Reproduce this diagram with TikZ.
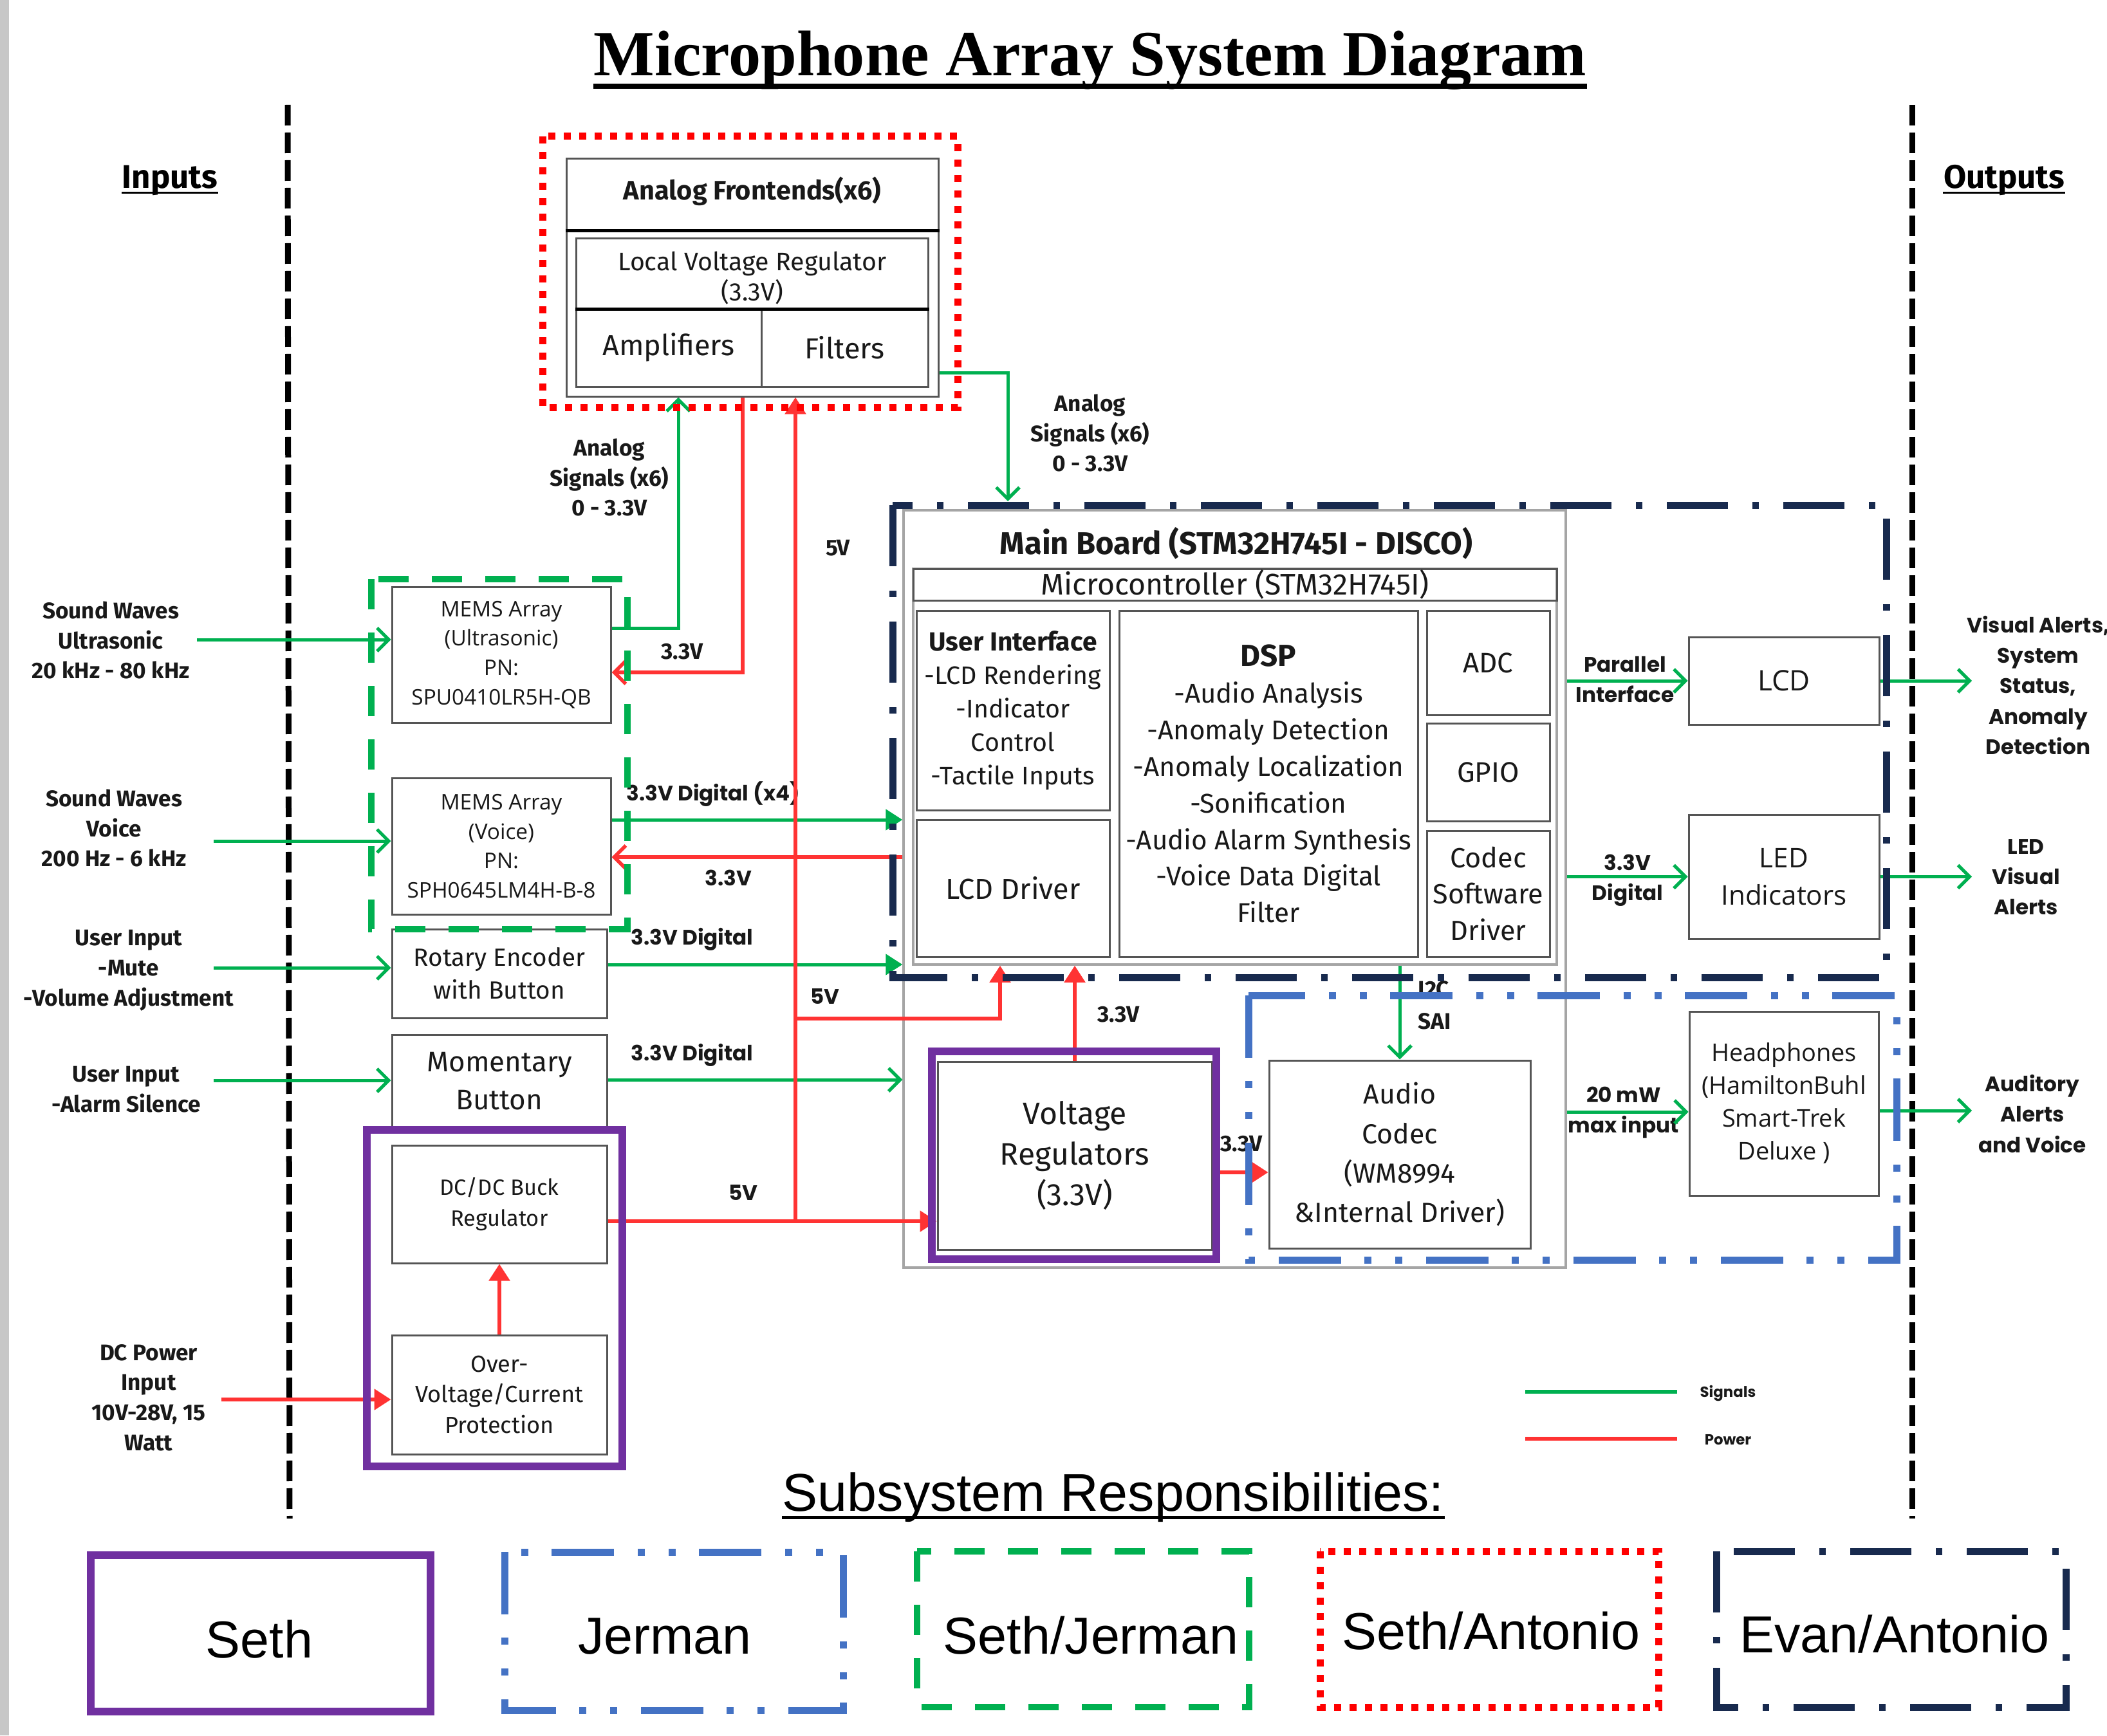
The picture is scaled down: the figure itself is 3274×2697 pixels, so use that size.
\documentclass[tikz,border=0pt]{standalone}
\usepackage{fontspec}
\setmainfont{Fira Sans}
\newfontfamily\geofont{Poppins}
\newfontfamily\opensans{Open Sans}
\newfontfamily\arialfont{Liberation Sans}
\newfontfamily\timesfont{Liberation Serif}
\usepackage{tikz}
\usetikzlibrary{arrows.meta,positioning,calc}

\definecolor{sigcol}{RGB}{0,176,80}
\definecolor{pwrcol}{RGB}{255,51,51}
\definecolor{redown}{RGB}{255,0,0}
\definecolor{greenown}{RGB}{0,176,80}
\definecolor{purpleown}{RGB}{112,48,160}
\definecolor{navyown}{RGB}{24,42,78}
\definecolor{blueown}{RGB}{68,114,196}
\definecolor{edgegray}{RGB}{85,85,85}
\definecolor{boardgray}{RGB}{165,165,165}
\definecolor{ink}{RGB}{25,25,25}

\newcommand\setfs[2]{\fontsize{#1}{#2}\selectfont}

\begin{document}
\begin{tikzpicture}[x=0.1mm,y=-0.1mm,>=Latex,
  box/.style={draw=edgegray,line width=0.3mm,align=center,inner sep=0pt,text=ink},
  boardbox/.style={draw=boardgray,line width=0.35mm,inner sep=0pt},
  sig/.style={draw=sigcol,line width=0.5mm,-{Straight Barb[length=1.8mm,width=3.6mm]}},
  sigf/.style={draw=sigcol,line width=0.5mm,-{Triangle[length=2.6mm,width=3.2mm]}},
  pwr/.style={draw=pwrcol,line width=0.55mm,-{Triangle[length=2.6mm,width=3.2mm]}},
  pwro/.style={draw=pwrcol,line width=0.55mm,-{Straight Barb[length=1.8mm,width=3.6mm]}},
  pwrline/.style={draw=pwrcol,line width=0.55mm},
  divider/.style={line width=0.9mm,dash pattern=on 3.2mm off 1.1mm},
  sethown/.style={draw=purpleown,line width=1.2mm},
  jermanown/.style={draw=blueown,line width=1.1mm,dash pattern=on 9.7mm off 3.6mm on 1.1mm off 3.7mm on 1.1mm off 3.7mm},
  sjown/.style={draw=greenown,line width=1.0mm,dash pattern=on 4.7mm off 3.6mm},
  saown/.style={draw=redown,line width=1.1mm,dash pattern=on 1.1mm off 1.3mm},
  eaown/.style={draw=navyown,line width=1.1mm,dash pattern=on 9.5mm off 3.8mm on 1mm off 3.8mm},
  inlbl/.style={font=\bfseries\setfs{10}{13.3},align=center,inner sep=0pt,text=ink},
  wirelbl/.style={font=\geofont\bfseries\setfs{9.3}{13.4},align=center,inner sep=0pt,text=ink},
  outlbl/.style={font=\geofont\bfseries\setfs{9.3}{13.4},align=center,inner sep=0pt,text=ink},
  ownlbl/.style={font=\arialfont\setfs{23}{26},inner sep=0pt}]

\useasboundingbox (0,0) rectangle (3274,2697);
\fill[black!22] (0,0) rectangle (14,2697);

% headings
\node[anchor=base,inner sep=0pt,font=\timesfont\bfseries\setfs{28.5}{32}] (title) at (1694,118) {Microphone Array System Diagram};
\draw[line width=0.8mm] ([yshift=-1.6mm]title.base west) -- ([yshift=-1.6mm]title.base east);
\node[anchor=base,inner sep=0pt,font=\bfseries\setfs{14.5}{16}] (inhead) at (264,293) {Inputs};
\draw[line width=0.3mm] ([yshift=-0.7mm]inhead.base west) -- ([yshift=-0.7mm]inhead.base east);
\node[anchor=base,inner sep=0pt,font=\bfseries\setfs{14.5}{16}] (outhead) at (3114,293) {Outputs};
\draw[line width=0.3mm] ([yshift=-0.7mm]outhead.base west) -- ([yshift=-0.7mm]outhead.base east);

% input / output dividers
\draw[divider] (447,163) -- (450,2360);
\draw[divider] (2971,163) -- (2971,2360);

% analog frontends
\node[box,minimum width=57.8mm,minimum height=36.9mm] (afe) at (1169,431.5) {};
\node[inner sep=0pt,text=ink,font=\bfseries\setfs{11.8}{13}] (afetitle) at (1169,297) {Analog Frontends(x6)};
\draw[line width=0.5mm] (afe.west |- 0,359) -- (afe.east |- 0,359);
\node[box,minimum width=54.7mm,minimum height=10.8mm] (lvr) at (1168.5,425) {};
\node[inner sep=0pt,align=center,text=ink,font=\setfs{11.2}{13.6}] (lvrtext) at (1169,432) {Local Voltage Regulator\\(3.3V)};
\node[box,minimum width=28.8mm,minimum height=12.2mm,font=\setfs{12.8}{15}] (amp) at (1039,540) {Amplifiers};
\node[box,minimum width=25.9mm,minimum height=12.2mm,font=\setfs{12.8}{15}] (filt) at (1312.5,540) {Filters};
\draw[line width=0.5mm] (lvr.south west) -- (lvr.south east);

% sensors and user inputs
\node[box,minimum width=34mm,minimum height=21.1mm,font=\opensans\setfs{9.5}{13}] (memsu) at (779,1017.5) {MEMS Array\\(Ultrasonic)\\PN:\\SPU0410LR5H-QB};
\node[box,minimum width=34mm,minimum height=21.2mm,font=\opensans\setfs{9.5}{13}] (memsv) at (779,1315) {MEMS Array\\(Voice)\\PN:\\SPH0645LM4H-B-8};
\node[box,minimum width=33.4mm,minimum height=13.8mm,font=\setfs{11}{14.5}] (rotary) at (776,1513) {Rotary Encoder\\with Button};
\node[box,minimum width=33.4mm,minimum height=14.4mm,font=\setfs{12.5}{16.8}] (momentary) at (776,1680) {Momentary\\Button};
\node[box,minimum width=33.4mm,minimum height=18.3mm,font=\setfs{9.8}{13.7}] (dcdc) at (776,1871.5) {DC/DC Buck\\Regulator};
\node[box,minimum width=33.4mm,minimum height=18.5mm,font=\setfs{10.3}{13.4}] (ovp) at (776,2167.5) {Over-\\Voltage/Current\\Protection};

% main board
\node[boardbox,minimum width=102.9mm,minimum height=117.7mm] (mainboard) at (1918.5,1381.5) {};
\node[inner sep=0pt,text=ink,font=\bfseries\setfs{13.9}{15}] (mbtitle) at (1921,844) {Main Board (STM32H745I - DISCO)};
\node[boardbox,minimum width=100mm,minimum height=61.5mm] (mcuframe) at (1919,1191.5) {};
\node[box,minimum width=100mm,minimum height=4.9mm,font=\setfs{13.2}{14}] (mcu) at (1919,908.5) {Microcontroller (STM32H745I)};
\node[box,minimum width=30mm,minimum height=31mm,font=\setfs{11.2}{14.8}] (ui) at (1574,1104) {{\bfseries\setfs{11.6}{14.8}User Interface}\\-LCD Rendering\\-Indicator\\Control\\-Tactile Inputs};
\node[box,minimum width=30mm,minimum height=21.3mm,font=\setfs{12.8}{14}] (lcddrv) at (1574,1380.5) {LCD Driver};
\node[box,minimum width=46.4mm,minimum height=53.8mm,font=\setfs{12}{16.2}] (dsp) at (1971,1218) {{\bfseries\setfs{13.5}{17}DSP}\\-Audio Analysis\\-Anomaly Detection\\-Anomaly Localization\\-Sonification\\-Audio Alarm Synthesis\\-Voice Data Digital\\Filter};
\node[box,minimum width=19.1mm,minimum height=16.2mm,font=\setfs{12.5}{14}] (adc) at (2312.5,1030) {ADC};
\node[box,minimum width=19.1mm,minimum height=15.2mm,font=\setfs{12.5}{14}] (gpio) at (2312.5,1200) {GPIO};
\node[box,minimum width=19.1mm,minimum height=19.6mm,font=\setfs{12.3}{16.1}] (codecsw) at (2312.5,1389) {Codec\\Software\\Driver};
\node[box,minimum width=42.6mm,minimum height=29.2mm,font=\setfs{13.7}{18}] (vreg) at (1670,1796) {Voltage\\Regulators\\(3.3V)};
\node[box,minimum width=40.6mm,minimum height=29.2mm,font=\setfs{12.2}{17.4}] (codec) at (2175,1794) {Audio\\Codec\\(WM8994\\\&Internal Driver)};

% outputs
\node[box,minimum width=29.6mm,minimum height=13.6mm,font=\opensans\setfs{12.5}{16.5}] (lcd) at (2772,1058) {LCD};
\node[box,minimum width=29.6mm,minimum height=19.3mm,font=\opensans\setfs{12}{16.5}] (led) at (2772,1362.5) {LED\\Indicators};
\node[box,minimum width=29.4mm,minimum height=28.6mm,font=\opensans\setfs{10.8}{14.5}] (hp) at (2772,1715) {Headphones\\(HamiltonBuhl\\Smart-Trek\\Deluxe )};

% input labels
\node[inlbl] (inultra) at (172,995) {Sound Waves\\Ultrasonic\\20 kHz - 80 kHz};
\node[inlbl] (invoice) at (177,1287) {Sound Waves\\Voice\\200 Hz - 6 kHz};
\node[inlbl] (inmute) at (200,1508) {User Input\\-Mute\\-Volume Adjustment};
\node[inlbl] (insilence) at (196,1693) {User Input\\-Alarm Silence};
\node[inlbl] (inpower) at (231,2172) {DC Power\\Input\\10V-28V, 15\\Watt};

% output labels
\node[outlbl] (outvisual) at (3167,1065) {Visual Alerts,\\System\\Status,\\Anomaly\\Detection};
\node[outlbl] (outled) at (3148,1363) {LED\\Visual\\Alerts};
\node[outlbl] (outaudio) at (3158,1731) {Auditory\\Alerts\\and Voice};

% connector labels
\node[inlbl] (lblanain) at (947,742) {Analog\\Signals (x6)\\0 - 3.3V};
\node[inlbl] (lblanaout) at (1694,673) {Analog\\Signals (x6)\\0 - 3.3V};
\node[inlbl] (lbllvr) at (1060,1013) {3.3V};
\node[inlbl] (lblbus) at (1302,852) {5V};
\node[inlbl] (lblvrup) at (1738,1577) {3.3V};
\node[inlbl] (lblvrcodec) at (1929,1778) {3.3V};
\node[inlbl,anchor=west] (lbli2c) at (2203,1537) {I2C};
\node[inlbl,anchor=west] (lblsai) at (2203,1587) {SAI};
\node[wirelbl,anchor=west] (lbldigx4) at (973,1234) {3.3V Digital (x4)};
\node[wirelbl] (lblmems3v) at (1132,1364) {3.3V};
\node[wirelbl,anchor=west] (lbldigrot) at (980,1460) {3.3V Digital};
\node[wirelbl,anchor=west] (lbldigmom) at (980,1640) {3.3V Digital};
\node[wirelbl] (lbltap5v) at (1282,1549) {5V};
\node[wirelbl] (lbldc5v) at (1155,1854) {5V};
\node[wirelbl] (lblpar) at (2525,1056) {Parallel\\Interface};
\node[wirelbl] (lblleddig) at (2529,1368) {3.3V\\Digital};
\node[wirelbl] (lblhp) at (2523,1729) {20 mW\\max input};

% signal connectors
\coordinate (ultrain) at (306,994);
\coordinate (voicein) at (332,1307);
\coordinate (mutein) at (332,1504);
\coordinate (silencein) at (332,1679);
\coordinate (powerin) at (344,2175);
\draw[sig] (ultrain) -- (ultrain -| memsu.west);
\draw[sig] (voicein) -- (voicein -| memsv.west);
\draw[sig] (mutein) -- (mutein -| rotary.west);
\draw[sig] (silencein) -- (silencein -| momentary.west);
\coordinate (amprise) at (1054,976);
\draw[sig] (memsu.east |- amprise) -- (amprise) -- (amprise |- afe.south);
\coordinate (afeturn) at (1566,579);
\coordinate (boardin) at (1566,779);
\draw[sig] (afe.east |- afeturn) -- (afeturn) -- (boardin);
\draw[sigf] (memsv.east |- 0,1274) -- (mainboard.west |- 0,1274);
\draw[sigf] (rotary.east |- 0,1499) -- (mainboard.west |- 0,1499);
\draw[sig] (momentary.east |- 0,1678) -- (mainboard.west |- 0,1678);
\draw[sig] (mcuframe.south -| codec.north) -- (codec.north);
\draw[sig] (mainboard.east |- lcd.west) -- (lcd.west);
\draw[sig] (mainboard.east |- led.west) -- (led.west);
\draw[sig] (mainboard.east |- 0,1728) -- (hp.west |- 0,1728);
\coordinate (outx) at (3064,0);
\draw[sig] (lcd.east) -- (lcd.east -| outx);
\draw[sig] (led.east) -- (led.east -| outx);
\draw[sig] (hp.east |- 0,1726) -- (outx |- 0,1726);

% power connectors
\draw[pwr] (powerin) -- (powerin -| ovp.west);
\draw[pwr] (ovp.north) -- (dcdc.south);
\coordinate (busbot) at (1236,1898);
\coordinate (bustap) at (1236,1583);
\coordinate (lcdtap) at (1554,1583);
\draw[pwr] (dcdc.east |- busbot) -- (vreg.west |- busbot);
\draw[pwr] (busbot) -- (busbot |- afe.south);
\draw[pwr] (bustap) -- (lcdtap) -- (lcdtap |- mcuframe.south);
\draw[pwr] (vreg.north) -- (vreg.north |- mcuframe.south);
\draw[pwr] (vreg.east |- 0,1822) -- (codec.west |- 0,1822);
\coordinate (lvrdrop) at (1154,1045);
\draw[pwro] (lvrdrop |- afe.south) -- (lvrdrop) -- (lvrdrop -| memsu.east);
\draw[pwro] (mainboard.west |- 0,1332) -- (memsv.east |- 0,1332);

% ownership frames
\draw[saown] (843,212) rectangle (1488,633);
\draw[sjown] (577,900) rectangle (975,1444);
\draw[sethown] (570,1756) rectangle (967,2279);
\draw[sethown] (1448,1634) rectangle (1890,1957);
\draw[eaown] (1387,785) rectangle (2931,1519);
\draw[jermanown] (1940,1547) rectangle (2947,1958);

% legend
\coordinate (sigkeyA) at (2370,2163);
\coordinate (sigkeyB) at (2606,2163);
\coordinate (pwrkeyA) at (2370,2236);
\coordinate (pwrkeyB) at (2606,2236);
\draw[sigcol,line width=0.55mm] (sigkeyA) -- (sigkeyB);
\draw[pwrcol,line width=0.55mm] (pwrkeyA) -- (pwrkeyB);
\node[inner sep=0pt,font=\geofont\bfseries\setfs{6.5}{8},text=ink] (sigkey) at (2685,2165) {Signals};
\node[inner sep=0pt,font=\geofont\bfseries\setfs{6.5}{8},text=ink] (pwrkey) at (2685,2238) {Power};

\node[anchor=base,inner sep=0pt,font=\arialfont\setfs{23.5}{26}] (resphead) at (1730,2348) {Subsystem Responsibilities:};
\draw[line width=0.5mm] ([yshift=-1mm]resphead.base west) -- ([yshift=-1mm]resphead.base east);

\draw[sethown] (141,2417) rectangle (669,2660);
\node[ownlbl] (keyseth) at (403,2548) {Seth};
\draw[jermanown] (784,2412) rectangle (1310,2658);
\node[ownlbl] (keyjerman) at (1033,2543) {Jerman};
\draw[sjown] (1425,2411) rectangle (1941,2653);
\node[ownlbl] (keysj) at (1695,2542) {Seth/Jerman};
\draw[saown] (2051,2411) rectangle (2577,2653);
\node[ownlbl] (keysa) at (2317,2535) {Seth/Antonio};
\draw[eaown] (2667,2411) rectangle (3210,2653);
\node[ownlbl] (keyea) at (2944,2540) {Evan/Antonio};
\end{tikzpicture}
\end{document}
